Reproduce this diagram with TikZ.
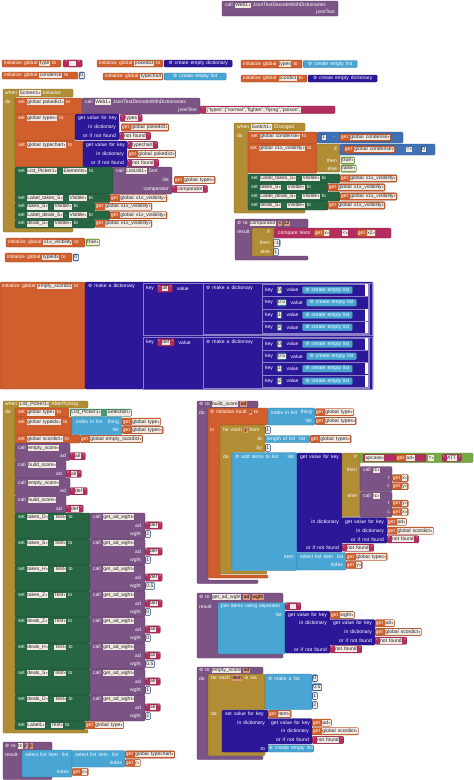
\documentclass[tikz,border=0pt]{standalone}
\usepackage{fontspec}
\setmainfont{Liberation Sans}[WordSpace=1.5]
\newfontfamily\symf{DejaVu Sans}
\usetikzlibrary{positioning}
\definecolor{VarOrange}{HTML}{D05F2D}
\definecolor{TextRed}{HTML}{B32D5E}
\definecolor{DictIndigo}{HTML}{2D1799}
\definecolor{ListBlue}{HTML}{49A6D4}
\definecolor{MathBlue}{HTML}{3F71B5}
\definecolor{CtrlGold}{HTML}{B18E35}
\definecolor{ProcPurple}{HTML}{7C5385}
\definecolor{CompGreen}{HTML}{266643}
\definecolor{CompTeal}{HTML}{439970}
\definecolor{LogicGreen}{HTML}{77AB41}
\definecolor{FieldBg}{HTML}{F3E9E3}
\newcommand\blkfont{\fontsize{5}{5.2}\selectfont}
\newcommand\dda{{\symf\fontsize{3}{3}\selectfont\,▾}}
\newcommand\fld[1]{{\setlength\fboxsep{0.5pt}\colorbox{FieldBg}{\color{black!85}\vphantom{Ag}#1}}}
\newcommand\prm[1]{{\setlength\fboxsep{0.5pt}\colorbox{VarOrange!65!white}{\color{black}\vphantom{Ag}#1}}}
\newcommand\gearic{{\symf\fontsize{4.6}{4.6}\selectfont ⚙}}

\begin{document}
\begin{tikzpicture}[
  x=1pt, y=-1pt,
  lbl/.style={font=\blkfont, text=white, inner sep=0pt, anchor=west},
  lbr/.style={font=\blkfont, text=white, inner sep=0pt, anchor=east},
  blk/.style={draw=#1!70!black, fill=#1, line width=0.3pt, rounded corners=1pt},
  sock/.style={draw=#1!70!black, fill=#1, line width=0.3pt, rounded corners=1pt,
    anchor=west, font=\blkfont, text=white, inner sep=0.8pt, minimum height=7pt},
  pair/.style={draw=DictIndigo!55!white, fill=DictIndigo, line width=0.3pt}
]
\useasboundingbox (0,0) rectangle (474,780);

\draw[blk=ProcPurple] (222,1) rectangle (338,16);
\node[lbl] (webcall) at (225,5.5) {call \fld{Web1\dda} JsonTextDecodeWithDictionaries};
\node[lbr] (webjson) at (335,12.5) {jsonText};

\draw[blk=VarOrange] (2,60) rectangle (61,67);
\node[lbl] (itype) at (4,63.5) {initialize global \fld{type} to};
\node[sock=TextRed, minimum width=19pt] (stype) at (63,63.5) {" \fld{\phantom{00}} "};
\draw[blk=VarOrange] (97,60) rectangle (163,67);
\node[lbl] (ipoke) at (99,63.5) {initialize global \fld{pokedict} to};
\node[sock=DictIndigo, minimum width=68pt] (dpoke) at (164,63.5) {\gearic\ create empty dictionary};
\draw[blk=VarOrange] (2,72) rectangle (78,79);
\node[lbl] (icond) at (4,75.5) {initialize global \fld{condense} to};
\node[sock=MathBlue] (ncond) at (79,75.5) {\fld{0}};
\draw[blk=VarOrange] (103,73) rectangle (163,80);
\node[lbl] (ichart) at (105,76.5) {initialize global \fld{typechart} to};
\node[sock=ListBlue, minimum width=62pt] (lchart) at (164,76.5) {\gearic\ create empty list};
\draw[blk=VarOrange] (241,60) rectangle (302,68);
\node[lbl] (itypes) at (243,64) {initialize global \fld{types} to};
\node[sock=ListBlue, minimum width=54pt] (ltypes) at (303,64) {\gearic\ create empty list};
\draw[blk=VarOrange] (241,75) rectangle (307,82);
\node[lbl] (iscor) at (243,78.5) {initialize global \fld{scordict} to};
\node[sock=DictIndigo, minimum width=69pt] (dscor) at (308,78.5) {\gearic\ create empty dictionary};

\draw[blk=CtrlGold] (3,89) -- (73,89) -- (73,97) -- (15,97) -- (15,228) -- (73,228) -- (73,232) -- (3,232) -- cycle;
\node[lbl] (scrwhen) at (5,93) {when \fld{Screen1\dda} Initialize};
\node[lbl] (scrdo) at (5,101.5) {do};
\draw[blk=VarOrange] (15,98) rectangle (82,114);
\node[lbl] at (18,102) {set \fld{global pokedict\dda} to};
\draw[blk=ProcPurple] (82,98) rectangle (200,114);
\node[lbl] at (85,102) {call \fld{Web1\dda} JsonTextDecodeWithDictionaries};
\node[lbr] at (197,110) {jsonText};
\draw[blk=TextRed] (200,106) rectangle (335,113.5);
\node[lbl] (json) at (202,109.8) {" \fld{\{"types":["normal","fighter","flying","poison",}};
\draw[blk=VarOrange] (15,114) rectangle (75,141);
\node[lbl] at (18,118) {set \fld{global types\dda} to};
\draw[blk=DictIndigo] (75,114) rectangle (119,140);
\node[lbl] at (78,118) {get value for key};
\node[lbr] at (116,127.5) {in dictionary};
\node[lbr] at (116,136) {or if not found};
\node[sock=TextRed] at (120,118) {" \fld{types} "};
\node[sock=VarOrange] at (121,127.5) {get \fld{global pokedict\dda}};
\node[sock=TextRed] at (119,136) {" \fld{not found} "};
\draw[blk=VarOrange] (15,141) rectangle (83,167);
\node[lbl] at (18,145) {set \fld{global typechart\dda} to};
\draw[blk=DictIndigo] (83,141) rectangle (127,167);
\node[lbl] at (86,145) {get value for key};
\node[lbr] at (124,154) {in dictionary};
\node[lbr] at (124,163) {or if not found};
\node[sock=TextRed] at (127,145) {" \fld{typechart} "};
\node[sock=VarOrange] at (128,154) {get \fld{global pokedict\dda}};
\node[sock=TextRed] at (127,163) {" \fld{not found} "};
\draw[blk=CompGreen] (15,167) rectangle (113,194);
\node[lbl] at (18,171) {set \fld{List\_Picker1\dda} . \fld{Elements\dda} to};
\draw[blk=ProcPurple] (113,167) rectangle (172,194);
\node[lbl] at (116,171) {call \fld{ListUtil1\dda} Sort};
\node[lbr] at (169,180) {list};
\node[lbr] at (169,189) {comparator};
\node[sock=VarOrange] at (174,180) {get \fld{global types\dda}};
\node[sock=TextRed] at (172,189) {" \fld{comparator} "};
\foreach \yt/\cn/\xw in {194/Label\_takes\_S/110, 202.5/takes\_S/95, 211/Label\_deals\_S/110, 219.5/deals\_S/95} {
  \draw[blk=CompGreen] (15,\yt) rectangle (\xw,\yt+8.5);
  \node[lbl] at (18,\yt+4.2) {set \fld{\cn\dda} . \fld{Visible\dda} to};
  \node[sock=VarOrange] at (\xw,\yt+4.2) {get \fld{global v1x\_visibility\dda}};
}
\draw[blk=VarOrange] (6,238) rectangle (85,247);
\node[lbl] (ivis) at (8,242.5) {initialize global \fld{v1x\_visibility} to};
\node[sock=LogicGreen] (tvis) at (86,242.5) {\fld{true\dda}};
\draw[blk=VarOrange] (5,253) rectangle (72,262);
\node[lbl] (iidx) at (7,257.5) {initialize global \fld{typeidx} to};
\node[sock=MathBlue] (nidx) at (73,257.5) {\fld{0}};

\draw[blk=CtrlGold] (234,123) -- (305,123) -- (305,131) -- (248,131) -- (248,209.5) -- (305,209.5) -- (305,213) -- (234,213) -- cycle;
\node[lbl] (swwhen) at (237,126.8) {when \fld{Switch1\dda} Changed};
\node[lbl] (swdo) at (237,135.5) {do};
\draw[blk=VarOrange] (248,132) rectangle (317,144);
\node[lbl] at (251,136.5) {set \fld{global condense\dda} to};
\draw[blk=MathBlue] (317,132) rectangle (403,143);
\node[sock=MathBlue] at (321,137.5) {\fld{1}};
\node[lbl] at (333,137.5) {-};
\node[sock=VarOrange] at (340,137.5) {get \fld{global condense\dda}};
\draw[blk=VarOrange] (248,144) rectangle (317,173);
\node[lbl] at (250,148.5) {set \fld{global v1x\_visibility\dda} to};
\draw[blk=CtrlGold] (317,144) rectangle (340,172);
\node[lbr] at (337,148.5) {if};
\node[lbr] at (337,160.5) {then};
\node[lbr] at (337,168.5) {else};
\draw[blk=MathBlue] (340,144) rectangle (435,155);
\node[sock=VarOrange] at (344,149.5) {get \fld{global condense\dda}};
\node[lbl] at (406,149.5) {\fld{=\dda}};
\node[sock=MathBlue] at (421,149.5) {\fld{0}};
\node[sock=LogicGreen] at (341,160.5) {\fld{true\dda}};
\node[sock=LogicGreen] at (341,168.5) {\fld{false\dda}};
\foreach \yt/\cn/\xw in {174/Label\_takes\_S/340, 183/takes\_S/328, 192/Label\_deals\_S/340, 201/deals\_S/328} {
  \draw[blk=CompGreen] (248,\yt) rectangle (\xw,\yt+9);
  \node[lbl] at (251,\yt+4.5) {set \fld{\cn\dda} . \fld{Visible\dda} to};
  \node[sock=VarOrange] at (\xw,\yt+4.5) {get \fld{global v1x\_visibility\dda}};
}

\draw[blk=ProcPurple] (235,219) -- (308,219) -- (308,228) -- (252,228) -- (252,256) -- (308,256) -- (308,260) -- (235,260) -- cycle;
\node[lbl] (cmpto) at (237,223.5) {\gearic\ to \fld{comparator} \prm{x} \prm{x2}};
\node[lbl] (cmpres) at (237,232) {result};
\draw[blk=CtrlGold] (252,228) rectangle (274,256);
\node[lbr] at (270,232) {if};
\node[lbr] at (270,243) {then};
\node[lbr] at (270,252) {else};
\draw[blk=TextRed] (274,228) rectangle (391,238);
\node[lbl] at (278,233) {compare texts};
\node[sock=VarOrange] at (314,233) {get \fld{x\dda}};
\node[lbl] at (342,233) {\fld{<\dda}};
\node[sock=VarOrange] at (357,233) {get \fld{x2\dda}};
\node[sock=MathBlue] at (273,243) {\fld{-1}};
\node[sock=MathBlue] at (273,252) {\fld{1}};

\draw[blk=VarOrange] (0,282) rectangle (85,389);
\node[lbl] (iempty) at (2,286.5) {initialize global \fld{empty\_scordict} to};
\draw[blk=DictIndigo] (85,282) rectangle (373,389);
\node[lbl] (mkdict) at (88,286.5) {\gearic\ make a dictionary};
\foreach \yt/\ad in {283/all, 337/def} {
  \draw[pair] (143,\yt) rectangle (372.5,\yt+52);
  \node[lbl] (kk) at (146,\yt+5.5) {key};
  \node[sock=TextRed, right=3pt of kk] (ks) {" \fld{\ad} "};
  \node[lbl, right=4pt of ks] {value};
  \draw[pair] (203,\yt+0.5) rectangle (369.5,\yt+51.5);
  \node[lbl] at (206,\yt+5.5) {\gearic\ make a dictionary};
}
\foreach \yy/\k/\g in {290/0/1, 302.7/0.5/0, 315/1/1, 327.3/2/1, 344/0/1, 356.3/0.5/0, 368.7/1/1, 381/2/1} {
  \draw[pair] (262,\yy-6.1) rectangle (368.5,\yy+6.1);
  \ifnum\g=1 \fill[white] (364.5,\yy-5.6) rectangle (368,\yy+5.6);\fi
  \node[lbl] (kk) at (265,\yy) {key};
  \node[sock=MathBlue, right=3.5pt of kk] (kn) {\fld{\k}};
  \node[lbl, right=4pt of kn] (kv) {value};
  \node[sock=ListBlue, right=3.5pt of kv, minimum width=50pt] {\gearic\ create empty list};
}

\draw[blk=CtrlGold] (3,401) -- (88,401) -- (88,408) -- (15,408) -- (15,729.5) -- (88,729.5) -- (88,733) -- (3,733) -- cycle;
\node[lbl] (lpwhen) at (5,404.5) {when \fld{List\_Picker1\dda} AfterPicking};
\node[lbl] (lpdo) at (5,412) {do};
\draw[blk=VarOrange] (15,408) rectangle (69,417);
\node[lbl] at (18,412.7) {set \fld{global type\dda} to};
\node[sock=CompTeal] at (70,412.7) {\fld{List\_Picker1\dda} . \fld{Selection\dda}};
\draw[blk=VarOrange] (15,417) rectangle (72,435);
\node[lbl] at (18,421.7) {set \fld{global typeidx\dda} to};
\draw[blk=ListBlue] (72,417) rectangle (122,434.5);
\node[lbl] at (76,421.7) {index in list};
\node[lbr] at (119,421.7) {thing};
\node[lbr] at (119,430) {list};
\node[sock=VarOrange] at (122,421.7) {get \fld{global type\dda}};
\node[sock=VarOrange] at (122,430) {get \fld{global types\dda}};
\draw[blk=VarOrange] (15,435) rectangle (80,443);
\node[lbl] at (18,439) {set \fld{global scordict\dda} to};
\node[sock=VarOrange] at (80,439) {get \fld{global empty\_scordict\dda}};
\foreach \yt/\pn/\ad/\xw in {443/empty\_score/all/70, 460.5/build\_score/all/66, 478/empty\_score/def/70, 495.5/build\_score/def/66} {
  \draw[blk=ProcPurple] (15,\yt) rectangle (\xw,\yt+17.5);
  \node[lbl] at (18,\yt+4.8) {call \fld{\pn\dda}};
  \node[lbr] at (\xw-4,\yt+13.2) {ad};
  \node[sock=TextRed] at (\xw,\yt+13.2) {" \fld{\ad} "};
}
\foreach \yt/\cn/\ad/\wt in {513/takes\_D/def/2, 539/takes\_S/def/1, 565/takes\_H/def/0.5, 591/takes\_Z/def/0, 617/deals\_Z/all/0, 643/deals\_H/all/0.5, 669/deals\_S/all/1, 695/deals\_D/all/2} {
  \draw[blk=CompGreen] (15,\yt) rectangle (90,\yt+26);
  \draw[blk=ProcPurple] (90,\yt) rectangle (145,\yt+26);
  \node[lbl] at (18,\yt+4.2) {set \fld{\cn\dda} . \fld{Text\dda} to};
  \node[lbl] at (93,\yt+4.2) {call \fld{get\_ad\_wght\dda}};
  \node[lbr] at (141,\yt+12.5) {ad};
  \node[lbr] at (141,\yt+21) {wght};
  \node[sock=TextRed] at (145,\yt+12.5) {" \fld{\ad} "};
  \node[sock=MathBlue] at (145,\yt+21) {\fld{\wt}};
}
\draw[blk=CompGreen] (15,721) rectangle (85,729.5);
\node[lbl] at (18,725.2) {set \fld{Label1\dda} . \fld{Text\dda} to};
\node[sock=VarOrange] at (85,725.2) {get \fld{global type\dda}};

\draw[blk=ProcPurple] (3,742) rectangle (52,779.5);
\node[lbl] (rcto) at (5,746) {\gearic\ to \fld{rc} \prm{r} \prm{c}};
\node[lbl] (rcres) at (5,754.5) {result};
\draw[blk=ListBlue] (22,750) rectangle (72,777);
\node[lbl] at (25,754.5) {select list item\ \ list};
\node[lbr] at (69,772) {index};
\draw[blk=ListBlue] (72,750.5) rectangle (125,767);
\node[lbl] at (75,754.5) {select list item\ \ list};
\node[lbr] at (122,763) {index};
\node[sock=VarOrange] at (125,754.5) {get \fld{global typechart\dda}};
\node[sock=VarOrange] at (125,763) {get \fld{r\dda}};
\node[sock=VarOrange] at (72,772) {get \fld{c\dda}};

\draw[blk=ProcPurple] (197,401) -- (258,401) -- (258,408) -- (208,408) -- (208,580) -- (258,580) -- (258,583.5) -- (197,583.5) -- cycle;
\node[lbl] (bsto) at (199,404.3) {\gearic\ to \fld{build\_score} \prm{ad}};
\node[lbl] (bsdo) at (199,412.3) {do};
\draw[blk=VarOrange] (208,408) -- (268,408) -- (268,425) -- (220,425) -- (220,575) -- (268,575) -- (268,578) -- (208,578) -- cycle;
\node[lbl] at (210,412.3) {\gearic\ initialize local \prm{x} to};
\node[lbl] at (210,429.5) {in};
\draw[blk=ListBlue] (268,408) rectangle (315,425);
\node[lbl] at (271,412.3) {index in list};
\node[lbr] at (312,412.3) {thing};
\node[lbr] at (312,421) {list};
\node[sock=VarOrange] at (315,412.3) {get \fld{global type\dda}};
\node[sock=VarOrange] at (315,421) {get \fld{global types\dda}};
\draw[blk=CtrlGold] (220,425) -- (265,425) -- (265,452) -- (232,452) -- (232,571) -- (267,571) -- (267,574) -- (220,574) -- cycle;
\node[lbl] at (223,430) {for each \prm{y} from};
\node[lbr] at (262,439) {to};
\node[lbr] at (262,448) {by};
\node[lbl] at (223,457) {do};
\node[sock=MathBlue] at (265,430) {\fld{1}};
\draw[blk=ListBlue] (265,435.5) rectangle (310,442.5);
\node[lbl] at (267,439) {length of list\ \ list};
\node[sock=VarOrange] at (310,439) {get \fld{global types\dda}};
\node[sock=MathBlue] at (265,448) {\fld{1}};
\draw[blk=ListBlue] (232,452.5) rectangle (297,570.5);
\node[lbl] at (235,457) {\gearic\ add items to list};
\node[lbr] at (294,457) {list};
\node[lbr] at (294,556.7) {item};
\draw[blk=DictIndigo] (297,453) rectangle (342,552);
\node[lbl] at (300,457) {get value for key};
\node[lbr] at (339,521.7) {in dictionary};
\node[lbr] at (339,547.7) {or if not found};
\draw[blk=CtrlGold] (342,453) rectangle (360,516.5);
\node[lbr] at (357,457) {if};
\node[lbr] at (357,470) {then};
\node[lbr] at (357,495.7) {else};
\draw[blk=LogicGreen] (359,453) rectangle (473,462.5);
\draw[blk=TextRed] (363,454.3) rectangle (426,461.3);
\node[lbl] at (365,457.8) {\fld{upcase\dda}};
\node[sock=VarOrange] at (396,457.8) {get \fld{ad\dda}};
\node[lbl] at (428,457.8) {\fld{=\dda}};
\node[sock=TextRed] at (442,457.8) {" \fld{ATT} "};
\foreach \yt/\ra/\ca in {466.5/x/y, 492/y/x} {
  \draw[blk=ProcPurple] (360,\yt) rectangle (392,\yt+25);
  \node[lbl] at (363,\yt+3.8) {call \fld{rc\dda}};
  \node[lbr] at (390,\yt+11.6) {r};
  \node[lbr] at (390,\yt+19.8) {c};
  \node[sock=VarOrange] at (392,\yt+11.6) {get \fld{\ra\dda}};
  \node[sock=VarOrange] at (392,\yt+19.8) {get \fld{\ca\dda}};
}
\draw[blk=DictIndigo] (342,517.5) rectangle (387,543);
\node[lbl] at (345,521.7) {get value for key};
\node[lbr] at (384,530.7) {in dictionary};
\node[lbr] at (384,539.3) {or if not found};
\node[sock=VarOrange] at (387,521.7) {get \fld{ad\dda}};
\node[sock=VarOrange] at (387,530.7) {get \fld{global scordict\dda}};
\node[sock=TextRed] at (387,539.3) {" \fld{not found} "};
\node[sock=TextRed] at (342,547.7) {" \fld{not found} "};
\draw[blk=ListBlue] (297,552.5) rectangle (346,570);
\node[lbl] at (300,556.7) {select list item\ \ list};
\node[lbr] at (343,565) {index};
\node[sock=VarOrange] at (346,556.7) {get \fld{global types\dda}};
\node[sock=VarOrange] at (346,565) {get \fld{y\dda}};

\draw[blk=ProcPurple] (197,593) -- (283,593) -- (283,602.5) -- (218,602.5) -- (218,654) -- (283,654) -- (283,658) -- (197,658) -- cycle;
\node[lbl] (gwto) at (199,597.3) {\gearic\ to \fld{get\_ad\_wght} \prm{ad} \prm{wght}};
\node[lbl] (gwres) at (199,606.3) {result};
\draw[blk=ListBlue] (218,602.5) rectangle (285,654);
\node[lbl] at (221,606.3) {join items using separator};
\node[lbr] at (282,615) {list};
\node[sock=TextRed] at (285,606.3) {" \fld{\phantom{00}} "};
\draw[blk=DictIndigo] (285,611) rectangle (330,653);
\node[lbl] at (288,615) {get value for key};
\node[lbr] at (327,623.3) {in dictionary};
\node[lbr] at (327,649.3) {or if not found};
\node[sock=VarOrange] at (330,615) {get \fld{wght\dda}};
\draw[blk=DictIndigo] (330,619.5) rectangle (375,645);
\node[lbl] at (333,623.3) {get value for key};
\node[lbr] at (372,632) {in dictionary};
\node[lbr] at (372,640.7) {or if not found};
\node[sock=VarOrange] at (375,623.3) {get \fld{ad\dda}};
\node[sock=VarOrange] at (375,632) {get \fld{global scordict\dda}};
\node[sock=TextRed] at (375,640.7) {" \fld{not found} "};
\node[sock=TextRed] at (330,649.3) {" \fld{not found} "};

\draw[blk=ProcPurple] (197,667) -- (263,667) -- (263,674) -- (208,674) -- (208,755.5) -- (263,755.5) -- (263,759.5) -- (197,759.5) -- cycle;
\node[lbl] (esto) at (199,670.5) {\gearic\ to \fld{empty\_score} \prm{ad}};
\node[lbl] (esdo) at (199,678.3) {do};
\draw[blk=CtrlGold] (208,674) -- (265,674) -- (265,709.5) -- (222,709.5) -- (222,751.5) -- (265,751.5) -- (265,755.5) -- (208,755.5) -- cycle;
\node[lbl] at (211,678.3) {for each \prm{item} in list};
\node[lbl] at (211,714) {do};
\draw[blk=ListBlue] (265,674) rectangle (312,709.5);
\node[lbl] at (268,678.3) {\gearic\ make a list};
\foreach \nv/\yy in {0/678.3, 0.5/687.3, 1/696, 2/705}
  \node[sock=MathBlue] at (312,\yy) {\fld{\nv}};
\draw[blk=DictIndigo] (222,710) rectangle (268,752);
\node[lbl] at (225,714) {set value for key};
\node[lbr] at (265,722.7) {in dictionary};
\node[lbr] at (265,748.5) {to};
\node[sock=VarOrange] at (268,714) {get \fld{item\dda}};
\draw[blk=DictIndigo] (268,718.5) rectangle (312,744);
\node[lbl] at (271,722.7) {get value for key};
\node[lbr] at (309,731.3) {in dictionary};
\node[lbr] at (309,740) {or if not found};
\node[sock=VarOrange] at (312,722.7) {get \fld{ad\dda}};
\node[sock=VarOrange] at (312,731.3) {get \fld{global scordict\dda}};
\node[sock=TextRed] at (312,740) {" \fld{not found} "};
\node[sock=ListBlue] at (268,748.5) {\gearic\ create empty list};
\end{tikzpicture}
\end{document}
